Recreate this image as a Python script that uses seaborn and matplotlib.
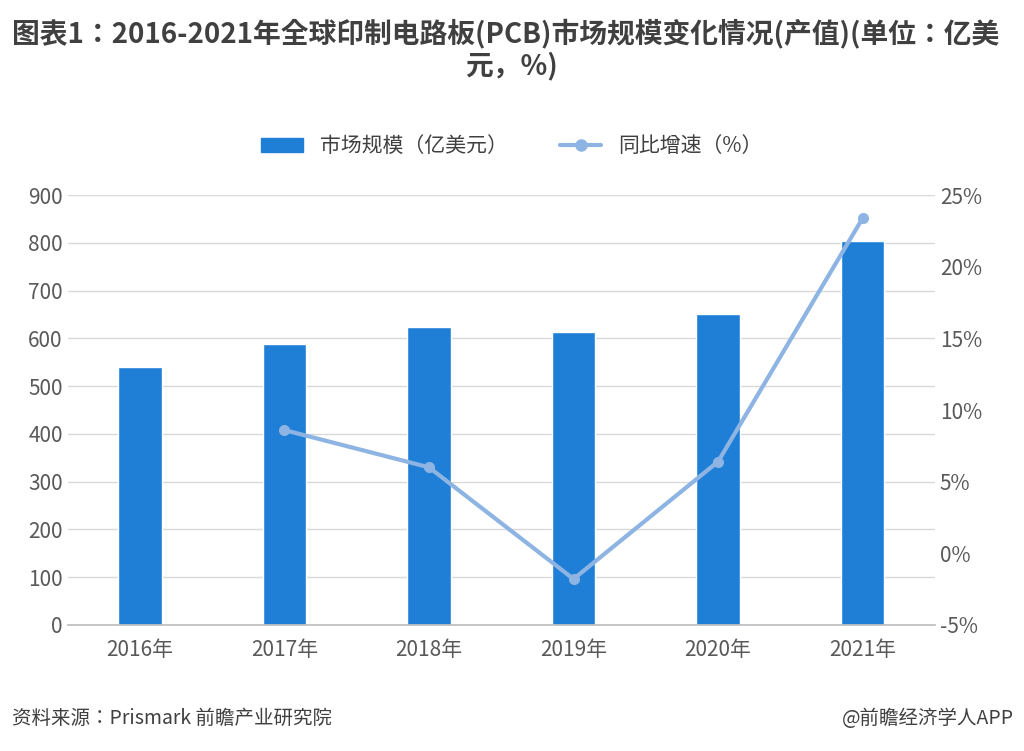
import matplotlib
matplotlib.use("Agg")
import matplotlib.pyplot as plt
from matplotlib import font_manager as fm
import seaborn as sns
import pandas as pd

cjk = [f.name for f in fm.fontManager.ttflist if "CJK" in f.name]
pref = [n for n in ["Noto Sans CJK SC", "Noto Sans CJK JP", "Noto Sans CJK TC", "Noto Sans CJK KR"] if n in cjk]
fam = (pref or cjk or ["DejaVu Sans"])[0]
sns.set_theme(style="white", font=fam)
plt.rcParams["font.family"] = [fam, "DejaVu Sans"]
plt.rcParams["axes.unicode_minus"] = False

years = ["2016年", "2017年", "2018年", "2019年", "2020年", "2021年"]
market = [540, 588, 624, 613, 652, 804]
growth_years = ["2017年", "2018年", "2019年", "2020年", "2021年"]
growth = [8.6, 6.0, -1.8, 6.4, 23.4]

df = pd.DataFrame({"year": years, "market": market})
gdf = pd.DataFrame({"year": growth_years, "growth": growth})
gdf["x"] = [years.index(y) for y in growth_years]

fig = plt.figure(figsize=(10.24, 7.51), dpi=100)
ax = fig.add_axes([0.066, 0.168, 0.847, 0.572])
sns.barplot(data=df, x="year", y="market", color="#1f7fd6", width=0.3, ax=ax, saturation=1)
ax.set_ylim(0, 900)
ax.set_yticks(range(0, 901, 100))
ax.grid(axis="y", color="#d9d9d9", lw=1)
ax.set_axisbelow(True)
for s in ["top", "right", "left"]:
    ax.spines[s].set_visible(False)
ax.spines["bottom"].set_color("#bfbfbf")
ax.tick_params(length=0, labelsize=15, colors="#595959")
ax.tick_params(axis="x", pad=10)
ax.set_xlabel(""); ax.set_ylabel("")

ax2 = ax.twinx()
sns.lineplot(data=gdf, x="x", y="growth", ax=ax2, color="#8db4e2", lw=3,
             marker="o", markersize=8, markeredgewidth=0)
ax2.set_ylim(-5, 25)
ax2.set_yticks(range(-5, 26, 5))
ax2.set_yticklabels([f"{v}%" for v in range(-5, 26, 5)])
for s in ax2.spines.values():
    s.set_visible(False)
ax2.tick_params(length=0, labelsize=15, colors="#595959")
ax2.set_xlabel(""); ax2.set_ylabel("")
ax2.grid(False)
ax.set_xlim(-0.5, 5.5)

from matplotlib.patches import Patch
from matplotlib.lines import Line2D
handles = [Patch(color="#1f7fd6", label="市场规模（亿美元）"),
           Line2D([0], [0], color="#8db4e2", lw=3, marker="o", markersize=8, label="同比增速（%）")]
fig.legend(handles=handles, loc="center", bbox_to_anchor=(0.5, 0.805), ncol=2,
           frameon=False, fontsize=15, labelcolor="#404040", columnspacing=2.5)

fig.text(0.012, 0.955, "图表1：2016-2021年全球印制电路板(PCB)市场规模变化情况(产值)(单位：亿美",
         fontsize=20, fontweight="bold", color="#404040", va="center")
fig.text(0.5, 0.912, "元，%)", fontsize=20, fontweight="bold", color="#404040",
         va="center", ha="center")
fig.text(0.012, 0.043, "资料来源：Prismark 前瞻产业研究院", fontsize=14, color="#404040", va="center")
fig.text(0.99, 0.043, "@前瞻经济学人APP", fontsize=14, color="#404040", va="center", ha="right")

fig.savefig("out.png", dpi=100)
